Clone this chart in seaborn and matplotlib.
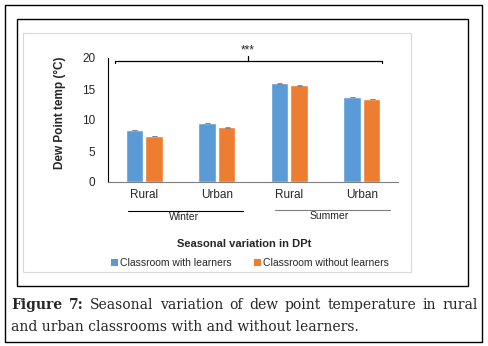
import numpy as np
import pandas as pd
import seaborn as sns
import matplotlib.pyplot as plt
from matplotlib.patches import Rectangle, Patch
import matplotlib.transforms as mtransforms

# =============================================
# Data
seasons = ['Winter', 'Winter', 'Summer', 'Summer']
sites = ['Rural', 'Urban', 'Rural', 'Urban']
with_learners = [8.4, 9.5, 15.9, 13.7]
without_learners = [7.4, 8.8, 15.6, 13.4]
err_with = [0.03, 0.06, 0.03, 0.05]
err_without = [0.03, 0.03, 0.04, 0.04]
series_names = ['Classroom with learners', 'Classroom without learners']
y_ticks = [0, 5, 10, 15, 20]

palette = {'Classroom with learners': '#5B9BD5',
           'Classroom without learners': '#ED7D31'}

# long table for seaborn
keys = [s + ' ' + c for s, c in zip(seasons, sites)]
df = pd.DataFrame({
    'key': keys * 2,
    'value': with_learners + without_learners,
    'err': err_with + err_without,
    'series': [series_names[0]] * 4 + [series_names[1]] * 4,
})

sns.set_style('white')
plt.rcParams['font.family'] = ['Liberation Sans', 'DejaVu Sans']

fig = plt.figure(figsize=(4.88, 3.46), dpi=100)
W, H = 488, 346


def fx(px):
    return px / W


def fy(py):
    return 1 - py / H


# frames: outer page box, figure box, light chart area
fig.patches.append(Rectangle((fx(5), fy(342)), fx(477), 337 / H, transform=fig.transFigure,
                             fill=False, edgecolor='black', linewidth=1.0))
fig.patches.append(Rectangle((fx(17), fy(286)), fx(451), 267 / H, transform=fig.transFigure,
                             fill=False, edgecolor='black', linewidth=1.0))
fig.patches.append(Rectangle((fx(23), fy(272)), fx(388), 239 / H, transform=fig.transFigure,
                             fill=False, edgecolor='#d9d9d9', linewidth=0.8))

ax = fig.add_axes([fx(108), fy(182), fx(290), 124 / H])
ax.patch.set_alpha(0)

sns.barplot(data=df, x='key', y='value', hue='series', order=keys, hue_order=series_names,
            palette=palette, width=0.54, gap=0.1, errorbar=None, saturation=1, ax=ax)

# small error bars on top of each bar
for cont, name in zip(ax.containers, series_names):
    sub = df[df.series == name].set_index('key').loc[keys]
    xs = [b.get_x() + b.get_width() / 2 for b in cont]
    ax.errorbar(xs, sub['value'], yerr=sub['err'], fmt='none', ecolor='#808080',
                elinewidth=0.6, capsize=1.8, capthick=0.6)

ax.legend_.remove()
ax.set_xlim(-0.5, 3.5)
ax.set_ylim(0, 20)
ax.set_yticks(y_ticks)
ax.set_xticks(range(4))
ax.set_xticklabels(sites)
ax.set_xlabel('')
ax.set_ylabel('Dew Point temp (°C)', fontsize=8.5, fontweight='bold')
ax.yaxis.set_label_coords(-0.145, 0.556)
ax.tick_params(axis='y', labelsize=8.5, length=0, pad=9)
ax.tick_params(axis='x', labelsize=8.5, length=0, pad=5)
for s in ['top', 'right']:
    ax.spines[s].set_visible(False)
ax.spines['left'].set_color('black')
ax.spines['left'].set_linewidth(0.8)
ax.spines['bottom'].set_color('#7f7f7f')
ax.spines['bottom'].set_linewidth(0.8)

# significance bracket
ax.plot([-0.41, -0.41, 3.28, 3.28], [19.15, 19.55, 19.55, 19.15], color='black', lw=0.9, clip_on=False)
ax.plot([1.43, 1.43], [19.55, 20.35], color='black', lw=0.9, clip_on=False)
ax.text(1.43, 20.3, '***', ha='center', va='bottom', fontsize=8.5)

# season grouping lines
trans = mtransforms.blended_transform_factory(ax.transData, ax.transAxes)
ax.plot([-0.22, 1.36], [-0.232, -0.232], transform=trans, color='black', lw=0.8, clip_on=False)
ax.plot([1.81, 3.39], [-0.225, -0.225], transform=trans, color='#7f7f7f', lw=0.8, clip_on=False)
ax.text(0.55, -0.28, 'Winter', transform=trans, ha='center', va='center', fontsize=7.5)
ax.text(2.55, -0.275, 'Summer', transform=trans, ha='center', va='center', fontsize=7.5)
fig.text(fx(244), fy(244), 'Seasonal variation in DPt', ha='center', va='center',
         fontsize=8, fontweight='bold')

handles = [Patch(facecolor=palette[n], edgecolor='none') for n in series_names]
fig.legend(handles, series_names, loc='center', bbox_to_anchor=(fx(250), fy(263)), ncol=2,
           frameon=False, fontsize=7.5, handlelength=0.6, handleheight=0.6, handletextpad=0.2,
           columnspacing=2.2, borderpad=0)

# caption, first line justified between the page margins
cap_font = ['DejaVu Serif']
cap_size = 10
line1 = [('Figure', 'bold'), ('7:', 'bold'), ('Seasonal', 'normal'), ('variation', 'normal'),
         ('of', 'normal'), ('dew', 'normal'), ('point', 'normal'), ('temperature', 'normal'),
         ('in', 'normal'), ('rural', 'normal')]
renderer = fig.canvas.get_renderer()
words = [fig.text(0, fy(305), w, fontsize=cap_size, fontweight=wt, family=cap_font,
                  va='center', ha='left') for w, wt in line1]
widths = [t.get_window_extent(renderer).width for t in words]
left, right = 11, 478
gap = (right - left - sum(widths)) / (len(words) - 1)
xpos = left
for t, wdt in zip(words, widths):
    t.set_x(fx(xpos))
    xpos += wdt + gap
fig.text(fx(11), fy(327), 'and urban classrooms with and without learners.',
         fontsize=cap_size, family=cap_font, va='center', ha='left')

fig.savefig('out.png', dpi=100)
